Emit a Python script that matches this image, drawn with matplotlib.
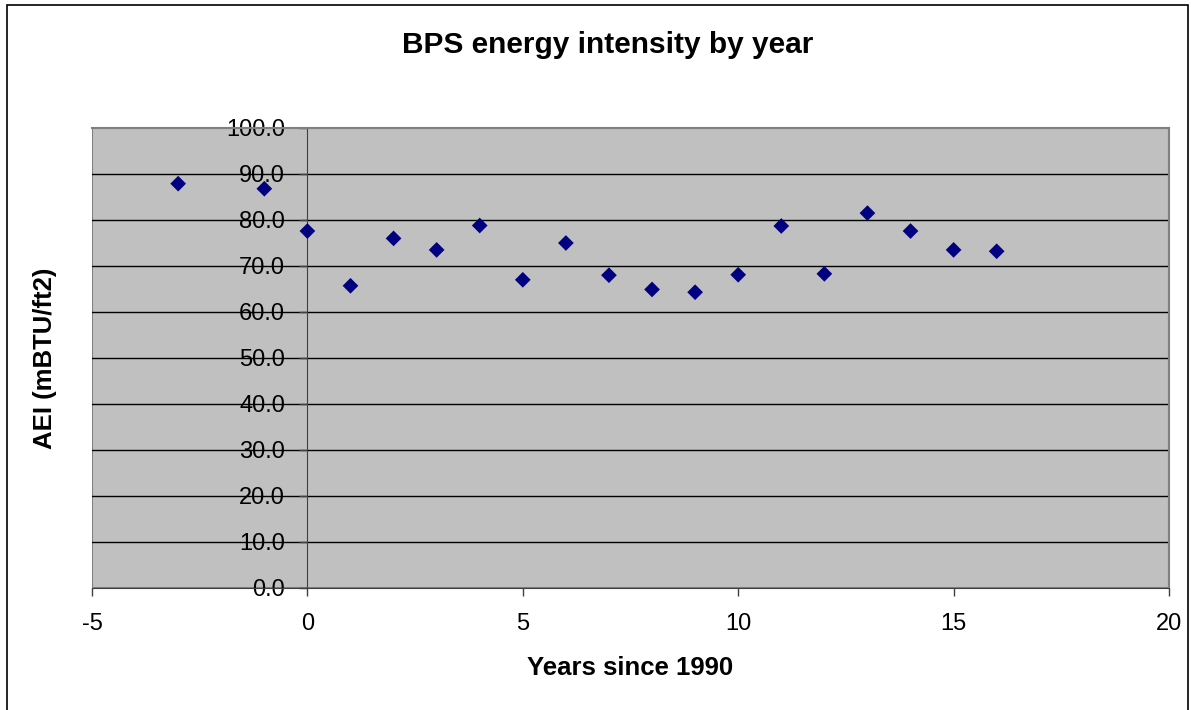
import matplotlib
matplotlib.use("Agg")
import matplotlib.pyplot as plt
from matplotlib.patches import Rectangle

plt.rcParams['font.family'] = ['Liberation Sans', 'DejaVu Sans']
plt.rcParams['axes.unicode_minus'] = False

years = [-3, -1, 0, 1, 2, 3, 4, 5, 6, 7, 8, 9, 10, 11, 12, 13, 14, 15, 16]
aei = [87.9, 86.8, 77.6, 65.7, 76.0, 73.5, 78.8, 67.0, 75.0, 68.0, 64.9,
       64.3, 68.1, 78.7, 68.3, 81.5, 77.6, 73.5, 73.2]
y_ticks = [0, 10, 20, 30, 40, 50, 60, 70, 80, 90, 100]
x_ticks = [-5, 0, 5, 10, 15, 20]

W, H = 1191, 710
fig = plt.figure(figsize=(W / 100, H / 100), dpi=100)

# outer chart border
fig.patches.append(Rectangle((7 / W, -0.02), 1181 / W, (H - 5) / H + 0.02,
                             transform=fig.transFigure, fill=False,
                             edgecolor='black', lw=1.2))

ax = fig.add_axes([92 / W, (H - 588) / H, 1077 / W, 460 / H])
ax.set_facecolor('#c0c0c0')

ax.scatter(years, aei, marker='D', s=64, color='#000080', zorder=3,
           edgecolors='none')

ax.set_xlim(-5, 20)
ax.set_ylim(0, 100)
ax.set_xticks(x_ticks)
ax.set_yticks(y_ticks)
ax.set_yticklabels([f"{v:.1f}" for v in y_ticks])

for v in y_ticks[1:-1]:
    ax.axhline(v, color='black', lw=1, zorder=1)

for side in ['top', 'right']:
    ax.spines[side].set_color('#808080')
    ax.spines[side].set_linewidth(1.5)
ax.spines['left'].set_position(('data', 0))
ax.spines['left'].set_color('#404040')
ax.spines['bottom'].set_color('#404040')
ax.spines['left'].set_zorder(2)

# plot area left frame
ax.add_patch(Rectangle((0, 0), 1, 1, transform=ax.transAxes, fill=False,
                       edgecolor='#808080', lw=1.5, zorder=0.5))

ax.tick_params(axis='y', direction='out', length=6, width=1, color='#404040',
               labelsize=17, pad=10)
ax.tick_params(axis='x', direction='out', length=6, width=1, color='#404040',
               labelsize=17, pad=12)

fig.text(608 / W, 1 - 45 / H, "BPS energy intensity by year", ha='center',
         va='center', fontsize=21.5, fontweight='bold')
fig.text(630 / W, 1 - 668 / H, "Years since 1990", ha='center', va='center',
         fontsize=18.5, fontweight='bold')
fig.text(45 / W, 1 - 358 / H, "AEI (mBTU/ft2)", ha='center', va='center',
         rotation=90, fontsize=18.5, fontweight='bold')

fig.savefig("out.png", dpi=100)
